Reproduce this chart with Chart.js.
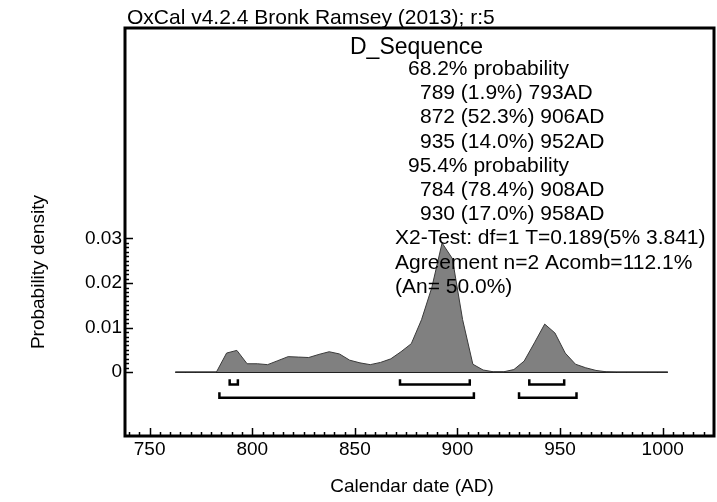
<!DOCTYPE html>
<html>
<head>
<meta charset="utf-8">
<script src="https://cdn.jsdelivr.net/npm/chart.js@4.4.1/dist/chart.umd.min.js"></script>
<style>
  html, body { margin: 0; padding: 0; background: #fff; }
  #wrap { width: 717px; height: 502px; }
</style>
</head>
<body>
<div id="wrap"><canvas id="chart" width="717" height="502"></canvas></div>
<script>
// posterior density of D_Sequence, sampled every 5 years
var years = [762.5, 767.5, 772.5, 777.5, 782.5, 787.5, 792.5, 797.5, 802.5, 807.5,
             812.5, 817.5, 822.5, 827.5, 832.5, 837.5, 842.5, 847.5, 852.5, 857.5,
             862.5, 867.5, 872.5, 877.5, 882.5, 887.5, 892.5, 897.5, 902.5, 907.5,
             912.5, 917.5, 922.5, 927.5, 932.5, 937.5, 942.5, 947.5, 952.5, 957.5,
             962.5, 967.5, 972.5, 977.5, 982.5, 987.5, 992.5, 997.5, 1002.5];
var density = [0, 0, 0, 0, 0, 0.0043, 0.0049, 0.0019, 0.0019, 0.0017,
               0.0026, 0.0035, 0.0034, 0.0033, 0.0040, 0.0046, 0.0041, 0.0027, 0.0021, 0.0017,
               0.0022, 0.0030, 0.0046, 0.0064, 0.0118, 0.0190, 0.0290, 0.0255, 0.0118, 0.0018,
               0.0005, 0.0001, 0.0001, 0.0006, 0.0025, 0.0066, 0.0108, 0.0088, 0.0043, 0.0018,
               0.0010, 0.0004, 0.0001, 0, 0, 0, 0, 0, 0];

// highest posterior density ranges
var ranges68 = [[789, 793], [872, 906], [935, 952]];
var pct68 = ['1.9', '52.3', '14.0'];
var ranges95 = [[784, 908], [930, 958]];
var pct95 = ['78.4', '17.0'];

var xTicks = [750, 800, 850, 900, 950, 1000];
var yTicks = [0, 0.01, 0.02, 0.03];

var headerText = 'OxCal v4.2.4 Bronk Ramsey (2013); r:5';
var seqName = 'D_Sequence';
var testLines = ['X2-Test: df=1 T=0.189(5% 3.841)', 'Agreement n=2 Acomb=112.1%', '(An= 50.0%)'];

var FONT = '"Liberation Sans", Arial, sans-serif';

// bracket polyline for each range row, broken with nulls
function brackets(list, top, bottom) {
  var pts = [];
  list.forEach(function (r) {
    pts.push({x: r[0], y: top}, {x: r[0], y: bottom}, {x: r[1], y: bottom}, {x: r[1], y: top});
    pts.push({x: r[1], y: null});
  });
  return pts;
}

var curve = years.map(function (y, i) { return {x: y, y: density[i]}; });
var baseline = years.map(function (y) { return {x: y, y: 0}; });

var overlay = {
  id: 'overlay',
  afterDraw: function (chart) {
    var ctx = chart.ctx, a = chart.chartArea;
    var xs = chart.scales.x, ys = chart.scales.y;
    ctx.save();
    ctx.strokeStyle = '#000';
    ctx.lineWidth = 1.5;
    // tick marks point inwards: majors every 50 yr, minors every 5 yr
    for (var v = 740; v <= 1025; v += 5) {
      var px = Math.round(xs.getPixelForValue(v)) + 0.5;
      if (px < a.left + 2 || px > a.right - 2) continue;
      var len = v % 50 === 0 ? 8 : 4;
      ctx.beginPath(); ctx.moveTo(px, a.bottom); ctx.lineTo(px, a.bottom - len); ctx.stroke();
    }
    for (var i = 0; i <= 30; i++) {
      var py = Math.round(ys.getPixelForValue(i / 1000)) + 0.5;
      var l = i % 10 === 0 ? 8 : 4;
      ctx.beginPath(); ctx.moveTo(a.left, py); ctx.lineTo(a.left + l, py); ctx.stroke();
    }
    ctx.lineWidth = 3;
    ctx.strokeRect(a.left, a.top, a.right - a.left, a.bottom - a.top);

    ctx.fillStyle = '#000';
    ctx.textBaseline = 'alphabetic';
    ctx.textAlign = 'left';
    ctx.font = '21px ' + FONT;
    ctx.fillText(headerText, 127, 24);
    ctx.font = '23px ' + FONT;
    ctx.fillText(seqName, 350, 54);

    ctx.font = '21px ' + FONT;
    var lines = [];
    lines.push(['68.2% probability', 408]);
    ranges68.forEach(function (r, k) { lines.push([r[0] + ' (' + pct68[k] + '%) ' + r[1] + 'AD', 420]); });
    lines.push(['95.4% probability', 408]);
    ranges95.forEach(function (r, k) { lines.push([r[0] + ' (' + pct95[k] + '%) ' + r[1] + 'AD', 420]); });
    testLines.forEach(function (t) { lines.push([t, 395]); });
    lines.forEach(function (ln, k) { ctx.fillText(ln[0], ln[1], 75 + k * 24.2); });

    // axis titles
    ctx.font = '19px ' + FONT;
    ctx.textAlign = 'center';
    ctx.fillText('Calendar date (AD)', 412, 492);
    ctx.translate(44, 272);
    ctx.rotate(-Math.PI / 2);
    ctx.fillText('Probability density', 0, 0);
    ctx.restore();
  }
};

new Chart(document.getElementById('chart'), {
  type: 'line',
  data: {
    datasets: [
      { data: curve, fill: 'origin', backgroundColor: '#808080', borderColor: '#3a3a3a',
        borderWidth: 1, pointRadius: 0, tension: 0 },
      { data: baseline, fill: false, borderColor: '#000', borderWidth: 1.5, pointRadius: 0 },
      { data: brackets(ranges68, -0.0016, -0.00275), fill: false, borderColor: '#000',
        borderWidth: 2.5, pointRadius: 0, spanGaps: false, borderJoinStyle: 'miter' },
      { data: brackets(ranges95, -0.0045, -0.0057), fill: false, borderColor: '#000',
        borderWidth: 2.5, pointRadius: 0, spanGaps: false, borderJoinStyle: 'miter' }
    ]
  },
  options: {
    responsive: false,
    devicePixelRatio: 1,
    animation: false,
    events: [],
    layout: { padding: { top: 28, right: 3, left: 0, bottom: 0 } },
    plugins: { legend: { display: false }, tooltip: { enabled: false } },
    scales: {
      x: {
        type: 'linear', min: 738, max: 1025,
        grid: { display: false, drawTicks: false },
        border: { display: false },
        afterBuildTicks: function (s) { s.ticks = xTicks.map(function (v) { return {value: v}; }); },
        afterFit: function (s) { s.height = 66; },
        ticks: { color: '#000', padding: 2, maxRotation: 0, font: { family: FONT, size: 19 },
                 callback: function (v) { return String(v); } }
      },
      y: {
        type: 'linear', min: -0.0143, max: 0.0772,
        grid: { display: false, drawTicks: false },
        border: { display: false },
        afterBuildTicks: function (s) { s.ticks = yTicks.map(function (v) { return {value: v}; }); },
        afterFit: function (s) { s.width = 125; },
        ticks: { color: '#000', padding: 3, font: { family: FONT, size: 19 },
                 callback: function (v) { return v === 0 ? '0' : v.toFixed(2); } }
      }
    }
  },
  plugins: [overlay]
});
</script>
</body>
</html>
